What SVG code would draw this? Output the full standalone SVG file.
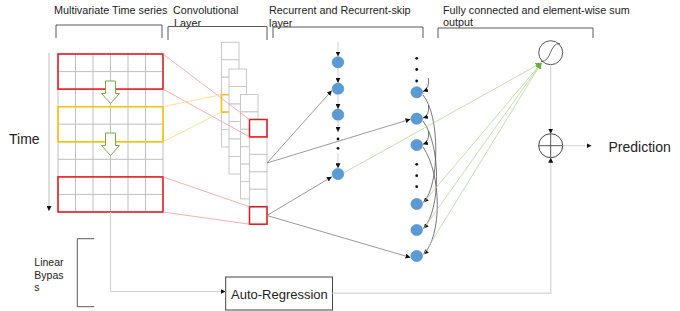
<svg xmlns="http://www.w3.org/2000/svg" width="680" height="311" viewBox="0 0 680 311">
<style>
text{font-family:"Liberation Sans",Arial,sans-serif;fill:#222}
.hdr{font-size:10.8px}
.br{fill:none;stroke:#595959;stroke-width:1}
.grid{stroke:#bfbfbf;stroke-width:1;fill:none}
.cell{fill:#fff;stroke:#c8c8c8;stroke-width:1}
.red{fill:none;stroke:#e8141b;stroke-width:1.5}
.yel{fill:none;stroke:#ffc000;stroke-width:1.5}
.pink{stroke:#f29b9b;stroke-width:0.8;fill:none}
.ylw{stroke:#ffd87a;stroke-width:0.8;fill:none}
.gl{stroke:#7f7f7f;stroke-width:0.8;fill:none}
.lg{stroke:#d0d0d0;stroke-width:1;fill:none}
.grn{stroke:#b5d6a0;stroke-width:0.8;fill:none}
.cv{stroke:#555;stroke-width:0.8;fill:none}
.node{fill:#5b9bd5;stroke:#4a86c0;stroke-width:0.6}
.dot{fill:#111}
.harrow{fill:#fff;stroke:#70ad47;stroke-width:1}
</style>
<defs>
<marker id="ab" markerUnits="userSpaceOnUse" markerWidth="5" markerHeight="5" refX="5" refY="2.5" orient="auto"><path d="M0,0 L5,2.5 L0,5 z" fill="#111"/></marker>
<marker id="ag" markerUnits="userSpaceOnUse" markerWidth="6" markerHeight="6" refX="6" refY="3" orient="auto"><path d="M0,0 L6,3 L0,6 z" fill="#70ad47"/></marker>
</defs>

<g id="headers">
<text class="hdr" x="54" y="14">Multivariate Time series</text>
<path class="br" d="M56,38 V25 H162 V38"/>
<text class="hdr" x="173" y="14">Convolutional</text>
<text class="hdr" x="174" y="27">Layer</text>
<path class="br" d="M168,40 V26.5 H267 V40"/>
<text class="hdr" x="269" y="14">Recurrent and Recurrent-skip</text>
<text class="hdr" x="269" y="27">layer</text>
<path class="br" d="M273,38 V27 H423 V38"/>
<text class="hdr" x="443" y="14">Fully connected and element-wise sum</text>
<text class="hdr" x="443" y="26">output</text>
<path class="br" d="M438,38 V28 H593 V38"/>
</g>

<g id="time-axis">
<line x1="49" y1="53" x2="49" y2="211" stroke="#bfbfbf" stroke-width="1" marker-end="url(#ab)"/>
<text x="9" y="144" font-size="14">Time</text>
</g>

<g id="input-grid">
<rect x="58" y="54" width="105" height="158" class="grid"/>
<path class="grid" d="M75.5,54V212M93,54V212M110.5,54V212M128,54V212M145.5,54V212M58,71.6H163M58,89.1H163M58,106.7H163M58,124.2H163M58,141.8H163M58,159.3H163M58,176.9H163M58,194.4H163"/>
<rect x="58" y="54" width="105" height="35.1" class="red"/>
<rect x="58" y="106.7" width="105" height="35.1" class="yel"/>
<rect x="58" y="176.9" width="105" height="35.1" class="red"/>
<polygon class="harrow" points="105.5,81 115.5,81 115.5,93.5 119.5,93.5 110.5,103.5 101.5,93.5 105.5,93.5"/>
<polygon class="harrow" points="105.5,133 115.5,133 115.5,145.5 119.5,145.5 110.5,155.5 101.5,145.5 105.5,145.5"/>
</g>

<g id="conv-layer">
<g>
<rect class="cell" x="221.5" y="42.3" width="17.5" height="17.45"/><rect class="cell" x="221.5" y="59.75" width="17.5" height="17.45"/><rect class="cell" x="221.5" y="77.2" width="17.5" height="17.45"/><rect class="cell" x="221.5" y="94.65" width="17.5" height="17.45"/><rect class="cell" x="221.5" y="112.1" width="17.5" height="17.45"/><rect class="cell" x="221.5" y="129.55" width="17.5" height="17.45"/>
<rect class="yel" x="221.5" y="94.65" width="17.5" height="17.45"/>
</g>
<g>
<rect class="cell" x="229" y="69" width="17.5" height="17.5"/><rect class="cell" x="229" y="86.5" width="17.5" height="17.5"/><rect class="cell" x="229" y="104" width="17.5" height="17.5"/><rect class="cell" x="229" y="121.5" width="17.5" height="17.5"/><rect class="cell" x="229" y="139" width="17.5" height="17.5"/><rect class="cell" x="229" y="156.5" width="17.5" height="17.5"/>
</g>
<g>
<rect class="cell" x="240.5" y="94.5" width="17.5" height="17.4"/><rect class="cell" x="240.5" y="111.9" width="17.5" height="17.4"/><rect class="cell" x="240.5" y="129.3" width="17.5" height="17.4"/><rect class="cell" x="240.5" y="146.7" width="17.5" height="17.4"/><rect class="cell" x="240.5" y="164.1" width="17.5" height="17.4"/><rect class="cell" x="240.5" y="181.5" width="17.5" height="17.4"/>
</g>
<g>
<rect class="cell" x="249.5" y="119.5" width="17.5" height="17.45"/><rect class="cell" x="249.5" y="136.95" width="17.5" height="17.45"/><rect class="cell" x="249.5" y="154.4" width="17.5" height="17.45"/><rect class="cell" x="249.5" y="171.85" width="17.5" height="17.45"/><rect class="cell" x="249.5" y="189.3" width="17.5" height="17.45"/><rect class="cell" x="249.5" y="206.75" width="17.5" height="17.45"/>
<rect class="red" x="249.5" y="119.5" width="17.5" height="17.45"/>
<rect class="red" x="249.5" y="206.75" width="17.5" height="17.45"/>
</g>
</g>

<g id="recurrent">
<ellipse class="node" cx="338" cy="62.3" rx="5.8" ry="5.6"/>
<ellipse class="node" cx="338" cy="88.7" rx="5.8" ry="5.6"/>
<ellipse class="node" cx="338" cy="114.7" rx="5.8" ry="5.6"/>
<circle class="dot" cx="338" cy="139" r="1.4"/>
<circle class="dot" cx="338" cy="148.3" r="1.4"/>
<ellipse class="node" cx="338" cy="174" rx="5.8" ry="5.6"/>
</g>

<g id="recurrent-skip">
<circle class="dot" cx="416.7" cy="58.3" r="1.4"/>
<circle class="dot" cx="416.7" cy="69.5" r="1.4"/>
<circle class="dot" cx="416.7" cy="81" r="1.4"/>
<ellipse class="node" cx="416.7" cy="92.3" rx="5.8" ry="5.6"/>
<ellipse class="node" cx="416.7" cy="118.7" rx="5.8" ry="5.6"/>
<ellipse class="node" cx="416.7" cy="145" rx="5.8" ry="5.6"/>
<circle class="dot" cx="416.7" cy="164.3" r="1.4"/>
<circle class="dot" cx="416.7" cy="175.7" r="1.4"/>
<circle class="dot" cx="416.7" cy="186.7" r="1.4"/>
<ellipse class="node" cx="416.7" cy="204" rx="5.8" ry="5.6"/>
<ellipse class="node" cx="416.7" cy="230" rx="5.8" ry="5.6"/>
<ellipse class="node" cx="416.7" cy="256" rx="5.8" ry="5.6"/>
</g>

<g id="sigmoid">
<circle cx="550.7" cy="52.7" r="12" fill="#fff" stroke="#555" stroke-width="1"/>
<path d="M541,61.5 C552,62 549,43 560,43.5" fill="none" stroke="#555" stroke-width="0.9"/>
</g>

<g id="sum">
<circle cx="550.7" cy="145.7" r="12" fill="#fff" stroke="#444" stroke-width="1"/>
<path d="M538.7,145.7 H562.7 M550.7,133.7 V157.7" stroke="#444" stroke-width="0.9"/>
</g>

<g id="prediction">
<text x="608.5" y="151.5" font-size="14">Prediction</text>
</g>

<g id="auto-regression">
<rect x="225.7" y="277" width="106.8" height="33" fill="#fff" stroke="#444" stroke-width="1"/>
<text x="231" y="299.3" font-size="13">Auto-Regression</text>
</g>

<g id="linear-bypass">
<path class="br" d="M94,238.7 H77.3 V306.7 H94"/>
<text x="34.3" y="265.7" font-size="10.5">Linear</text>
<text x="34.3" y="279" font-size="10.5">Bypas</text>
<text x="34.3" y="291.3" font-size="10.5">s</text>
</g>

<g id="connectors">
<line class="pink" x1="163" y1="54" x2="249.5" y2="119.5"/>
<line class="pink" x1="163" y1="89.1" x2="249.5" y2="136.9"/>
<line class="ylw" x1="163" y1="106.7" x2="221.5" y2="94.65"/>
<line class="ylw" x1="163" y1="141.8" x2="221.5" y2="112.1"/>
<line class="pink" x1="163" y1="176.9" x2="249.5" y2="206.75"/>
<line class="pink" x1="163" y1="212" x2="249.5" y2="224.2"/>

<line class="gl" x1="267" y1="163" x2="331.8" y2="90.5" marker-end="url(#ab)"/>
<line class="gl" x1="267" y1="163" x2="410.5" y2="119.2" marker-end="url(#ab)"/>
<line class="gl" x1="267" y1="215.5" x2="331.8" y2="176.8" marker-end="url(#ab)"/>
<line class="gl" x1="267" y1="215.5" x2="410.5" y2="257.5" marker-end="url(#ab)"/>

<line class="lg" x1="338" y1="41.7" x2="338" y2="56.5" marker-end="url(#ab)"/>
<line class="lg" x1="338" y1="68" x2="338" y2="82.9" marker-end="url(#ab)"/>
<line class="lg" x1="338" y1="94.4" x2="338" y2="108.9" marker-end="url(#ab)"/>
<line class="lg" x1="338" y1="120.4" x2="338" y2="132" marker-end="url(#ab)"/>
<line class="lg" x1="338" y1="153" x2="338" y2="168.2" marker-end="url(#ab)"/>

<path class="cv" d="M428.5,78 Q429.5,89 423,91.5" marker-end="url(#ab)"/>
<path class="cv" d="M428.5,105 Q429.5,116 423,118" marker-end="url(#ab)"/>
<path class="cv" d="M428.5,131 Q429.5,142 423,144.3" marker-end="url(#ab)"/>
<path class="cv" d="M423,95 C440,115 440,185 423.5,202.5" marker-end="url(#ab)"/>
<path class="cv" d="M423,121 C441,145 441,210 423.5,228.5" marker-end="url(#ab)"/>
<path class="cv" d="M423,147 C442,175 442,236 423.5,254.5" marker-end="url(#ab)"/>

<line class="grn" x1="343.5" y1="173" x2="541.5" y2="62.8" marker-end="url(#ag)"/>
<line class="grn" x1="424" y1="202" x2="541.5" y2="62.8" marker-end="url(#ag)"/>
<line class="grn" x1="424" y1="228" x2="541.5" y2="62.8" marker-end="url(#ag)"/>
<line class="grn" x1="424" y1="254" x2="541.5" y2="62.8" marker-end="url(#ag)"/>

<line class="lg" x1="550.7" y1="64.7" x2="550.7" y2="133.7" marker-end="url(#ab)"/>
<line class="lg" x1="562.7" y1="145.7" x2="591.5" y2="145.7" marker-end="url(#ab)"/>

<path class="lg" d="M110.5,212 V291.5 H225.7" marker-end="url(#ab)"/>
<path d="M332.5,293.3 H550.7 V157.7" fill="none" stroke="#d9d9d9" stroke-width="1.5" marker-end="url(#ab)"/>
</g>
</svg>
